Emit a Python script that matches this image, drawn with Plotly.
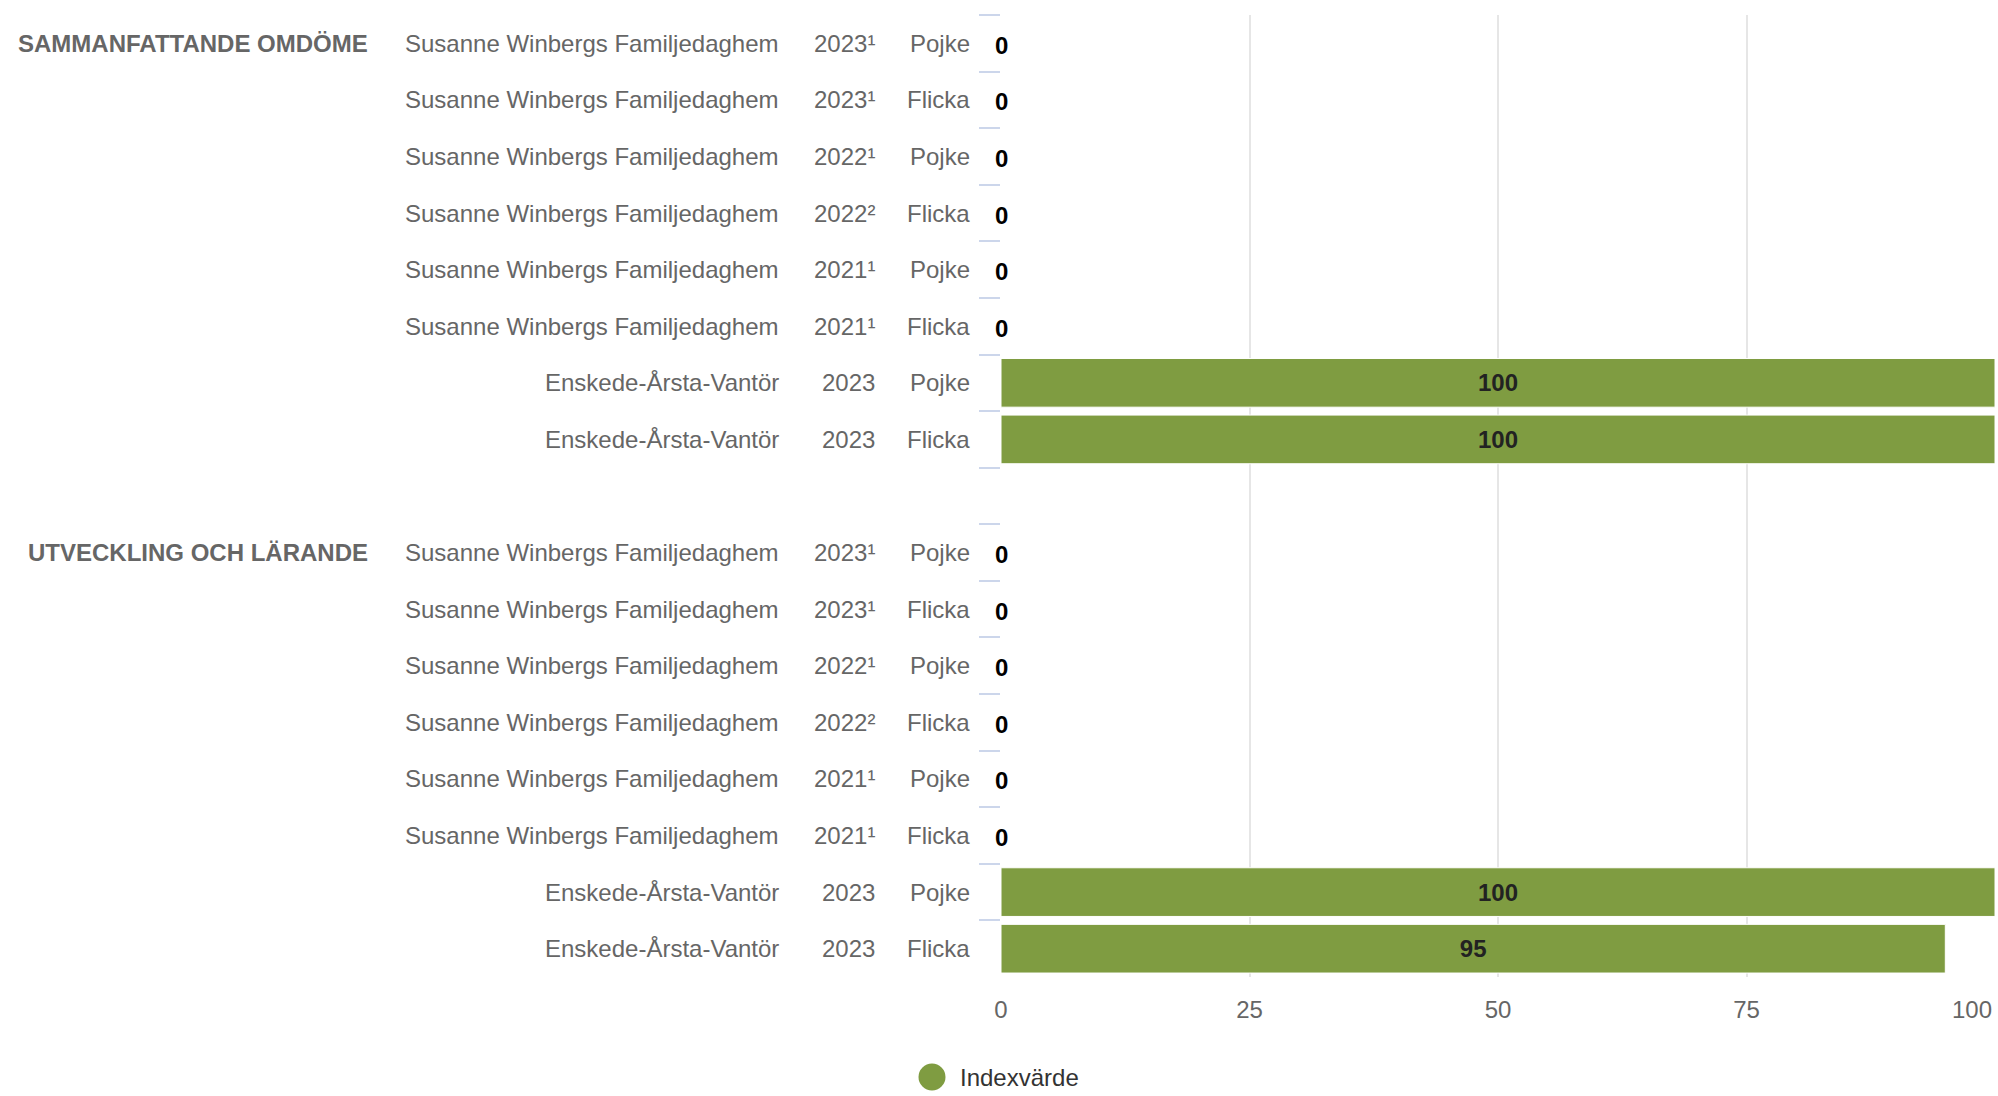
import plotly.graph_objects as go

# ---------------- data ----------------
groups = ["SAMMANFATTANDE OMDÖME", "UTVECKLING OCH LÄRANDE"]
units = ["Susanne Winbergs Familjedaghem"] * 6 + ["Enskede-Årsta-Vantör"] * 2
years = ["2023¹", "2023¹", "2022¹", "2022²", "2021¹", "2021¹", "2023", "2023"]
genders = ["Pojke", "Flicka", "Pojke", "Flicka", "Pojke", "Flicka", "Pojke", "Flicka"]
values_sammanfattande = [0, 0, 0, 0, 0, 0, 100, 100]
values_utveckling = [0, 0, 0, 0, 0, 0, 100, 95]
group_values = [values_sammanfattande, values_utveckling]
x_ticks = [0, 25, 50, 75, 100]
series_name = "Indexvärde"

# ---------------- styling ----------------
FONT = "Liberation Sans, Arial, sans-serif"
GREEN = "#7f9c41"
LABEL_GRAY = "#666666"
W, H = 1998, 1096
PLOT_L, PLOT_R = 1001, 1995
PLOT_T, PLOT_B = 15, 977


def px_to_paper(px):
    return (px - PLOT_L) / (PLOT_R - PLOT_L)


def py_to_paper(py):
    return (PLOT_B - py) / (PLOT_B - PLOT_T)


# build category rows (with a spacer row between groups)
cat_ids, xs, unit_lbl, year_lbl, gender_lbl, group_first = [], [], [], [], [], []
for gi, (g, vals) in enumerate(zip(groups, group_values)):
    if gi > 0:
        cat_ids.append("spacer%d" % gi)
        xs.append(None)
        unit_lbl.append(None)
        year_lbl.append(None)
        gender_lbl.append(None)
        group_first.append(None)
    for ri, v in enumerate(vals):
        cat_ids.append("%d|%d" % (gi, ri))
        xs.append(v)
        unit_lbl.append(units[ri])
        year_lbl.append(years[ri])
        gender_lbl.append(genders[ri])
        group_first.append(g if ri == 0 else None)

bar_text = ["" if (v is None or v == 0) else str(v) for v in xs]

fig = go.Figure()
fig.add_trace(go.Bar(
    x=xs, y=cat_ids, orientation="h", name=series_name,
    marker=dict(color=GREEN, line=dict(color="white", width=1)),
    text=bar_text, textposition="inside", insidetextanchor="middle",
    textfont=dict(family=FONT, size=24, color="#222222", weight="bold"),
    showlegend=False, hoverinfo="x",
))

annotations = []

# zero-value data labels (drawn at the bar's own value on the axis)
for cid, v in zip(cat_ids, xs):
    if v == 0:
        annotations.append(dict(
            x=v, xref="x", y=cid, yref="y", text="<b>%d</b>" % v,
            showarrow=False, xanchor="center", yanchor="middle", yshift=-2,
            font=dict(family=FONT, size=24, color="#000000"),
        ))

label_font = dict(family=FONT, size=24, color=LABEL_GRAY)
for cid, u, yr, gd, gf in zip(cat_ids, unit_lbl, year_lbl, gender_lbl, group_first):
    if u is None:
        continue
    for txt, px in ((u, 781), (yr, 877), (gd, 972)):
        annotations.append(dict(
            x=px_to_paper(px), xref="paper", y=cid, yref="y", text=txt,
            showarrow=False, xanchor="right", yanchor="middle", font=label_font,
        ))
    if gf:
        annotations.append(dict(
            x=px_to_paper(370), xref="paper", y=cid, yref="y", text="<b>%s</b>" % gf,
            showarrow=False, xanchor="right", yanchor="middle",
            font=dict(family=FONT, size=24, color=LABEL_GRAY),
        ))

# last x tick label, kept inside the chart edge (right aligned like the original)
annotations.append(dict(
    x=x_ticks[-1], xref="x", y=py_to_paper(1009), yref="paper",
    text=str(x_ticks[-1]), showarrow=False, xanchor="right", yanchor="middle",
    xshift=-1, font=dict(family=FONT, size=24, color=LABEL_GRAY),
))

# legend (custom, to get the large round symbol)
legend_y = py_to_paper(1077)
annotations.append(dict(
    x=px_to_paper(958), xref="paper", y=legend_y, yref="paper", text=series_name,
    showarrow=False, xanchor="left", yanchor="middle",
    font=dict(family=FONT, size=24, color="#333333"),
))
shapes = [dict(
    type="circle", xref="paper", yref="paper",
    xsizemode="pixel", ysizemode="pixel",
    xanchor=px_to_paper(932), yanchor=legend_y,
    x0=-13.5, x1=13.5, y0=-13.5, y1=13.5,
    fillcolor=GREEN, line=dict(width=0), layer="above",
)]

tick_text = [str(t) for t in x_ticks]
tick_text[-1] = ""

fig.update_layout(
    width=W, height=H,
    margin=dict(l=PLOT_L, r=W - PLOT_R, t=PLOT_T, b=H - PLOT_B, pad=0, autoexpand=False),
    paper_bgcolor="white", plot_bgcolor="white",
    bargap=0.14,
    font=dict(family=FONT, size=24, color=LABEL_GRAY),
    annotations=annotations,
    shapes=shapes,
    showlegend=False,
    xaxis=dict(
        range=[0, 100], tickvals=x_ticks, ticktext=tick_text,
        showgrid=True, gridcolor="#e6e6e6", gridwidth=2,
        zeroline=False, showline=False, ticks="",
        ticklabelstandoff=16,
        tickfont=dict(family=FONT, size=24, color=LABEL_GRAY),
        automargin=False, fixedrange=True,
    ),
    yaxis=dict(
        type="category", categoryorder="array", categoryarray=cat_ids,
        range=[len(cat_ids) - 0.5, -0.5], autorange=False,
        showticklabels=False,
        ticks="outside", tickson="boundaries", ticklen=21,
        tickcolor="#ccd6eb", tickwidth=2,
        showgrid=False, showline=False,
        zeroline=False, automargin=False, fixedrange=True,
    ),
)

fig.write_html(
    "out.html",
    config={"displayModeBar": False},
    post_script="document.body.style.margin='0px';document.body.style.overflow='hidden';",
)
